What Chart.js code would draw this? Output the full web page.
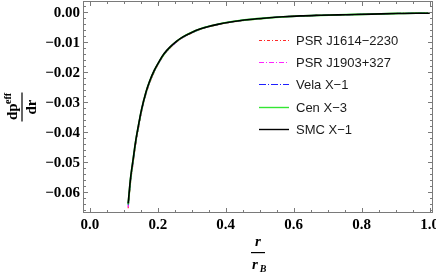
<!DOCTYPE html>
<html><head><meta charset="utf-8">
<script src="https://cdn.jsdelivr.net/npm/chart.js@4.4.1/dist/chart.umd.min.js"></script>
<style>html,body{margin:0;padding:0;background:#fff;}canvas{display:block;}</style>
</head><body>
<canvas id="c" width="436" height="273"></canvas>
<script>
// ---- data ----
const r = [0.113,0.120,0.127,0.135,0.142,0.152,0.165,0.176,0.190,0.206,0.220,0.235,0.255,0.274,0.300,0.324,0.350,0.373,0.410,0.440,0.470,0.520,0.569,0.620,0.680,0.755,0.830,0.900,0.960,1.000];
const psrJ1614 = [-0.0654,-0.0567,-0.0507,-0.0441,-0.0395,-0.0334,-0.0275,-0.0237,-0.0199,-0.0165,-0.0140,-0.0121,-0.0100,-0.0085,-0.0070,-0.0058,-0.0049,-0.0043,-0.0035,-0.0030,-0.0026,-0.0021,-0.0016,-0.0013,-0.0011,-0.0009,-0.0007,-0.0005,-0.0004,-0.0004];
const psrJ1903 = [-0.0651,-0.0564,-0.0505,-0.0439,-0.0393,-0.0333,-0.0273,-0.0236,-0.0198,-0.0164,-0.0140,-0.0120,-0.0100,-0.0085,-0.0069,-0.0058,-0.0049,-0.0043,-0.0035,-0.0030,-0.0026,-0.0020,-0.0016,-0.0013,-0.0011,-0.0009,-0.0007,-0.0005,-0.0004,-0.0004];
const velaX1 = [-0.0644,-0.0559,-0.0500,-0.0434,-0.0389,-0.0329,-0.0271,-0.0233,-0.0196,-0.0163,-0.0138,-0.0119,-0.0099,-0.0084,-0.0069,-0.0058,-0.0048,-0.0042,-0.0034,-0.0029,-0.0025,-0.0020,-0.0016,-0.0013,-0.0011,-0.0009,-0.0007,-0.0005,-0.0004,-0.0004];
const cenX3 = [-0.0641,-0.0556,-0.0497,-0.0432,-0.0387,-0.0328,-0.0269,-0.0232,-0.0195,-0.0162,-0.0138,-0.0119,-0.0098,-0.0083,-0.0068,-0.0057,-0.0048,-0.0042,-0.0034,-0.0029,-0.0025,-0.0020,-0.0016,-0.0013,-0.0011,-0.0009,-0.0007,-0.0005,-0.0004,-0.0004];
const smcX1 = [-0.0638,-0.0553,-0.0495,-0.0430,-0.0385,-0.0326,-0.0268,-0.0231,-0.0194,-0.0161,-0.0137,-0.0118,-0.0098,-0.0083,-0.0068,-0.0057,-0.0048,-0.0042,-0.0034,-0.0029,-0.0025,-0.0020,-0.0016,-0.0013,-0.0011,-0.0009,-0.0007,-0.0005,-0.0004,-0.0004];
const seriesLabels = ['PSR J1614\u22122230','PSR J1903+327','Vela X\u22121','Cen X\u22123','SMC X\u22121'];
const xTickValues = [0,0.2,0.4,0.6,0.8,1.0];
const xTickLabels = ['0.0','0.2','0.4','0.6','0.8','1.0'];
const yTickValues = [0,-0.01,-0.02,-0.03,-0.04,-0.05,-0.06];
const yTickLabels = ['0.00','\u22120.01','\u22120.02','\u22120.03','\u22120.04','\u22120.05','\u22120.06'];

const pts = ys => r.map((x,i)=>({x:x,y:ys[i]}));
const styles = [
  {c:'#ff2a2a', w:1.2, d:[3,2,1,2], o:5},
  {c:'#ff22ff', w:1.2, d:[5,2,1,2], o:4},
  {c:'#1f1fff', w:1.2, d:[7,2,1,2], o:3},
  {c:'#33e633', w:1.8, d:[], o:2},
  {c:'#000000', w:1.6, d:[], o:1}
];
const allSeries = [psrJ1614, psrJ1903, velaX1, cenX3, smcX1];
const datasets = allSeries.map((s,i)=>({
  label: seriesLabels[i], data: pts(s), borderColor: styles[i].c, borderWidth: styles[i].w,
  borderDash: styles[i].d, order: styles[i].o, pointRadius:0, fill:false, cubicInterpolationMode:'monotone'
}));

const decor = {
  id:'decor',
  afterDraw(chart){
    const ctx = chart.ctx, a = chart.chartArea, xs = chart.scales.x, ys = chart.scales.y;
    ctx.save();
    ctx.strokeStyle = '#7a7a7a'; ctx.lineWidth = 1;
    ctx.strokeRect(a.left+0.5, a.top+0.5, a.right-a.left-1, a.bottom-a.top-1);
    const tick = (x1,y1,x2,y2)=>{ctx.beginPath();ctx.moveTo(x1,y1);ctx.lineTo(x2,y2);ctx.stroke();};
    for(let k=0;k<=20;k++){
      const v=k*0.05, px=Math.round(xs.getPixelForValue(v))+0.5, L=(k%4===0)?5:3;
      tick(px,a.bottom,px,a.bottom-L); tick(px,a.top,px,a.top+L);
    }
    for(let k=-33;k<=1;k++){
      const v=k*0.002, py=Math.round(ys.getPixelForValue(v))+0.5, L=(k%5===0)?5:3;
      tick(a.left,py,a.left+L,py); tick(a.right,py,a.right-L,py);
    }
    ctx.fillStyle='#000';
    ctx.font='bold 15px "Liberation Serif", serif';
    ctx.textAlign='center'; ctx.textBaseline='middle';
    xTickValues.forEach((v,i)=>ctx.fillText(xTickLabels[i], xs.getPixelForValue(v), a.bottom+12));
    ctx.textAlign='right';
    yTickValues.forEach((v,i)=>ctx.fillText(yTickLabels[i], a.left-3, ys.getPixelForValue(v)+1));
    // x title
    ctx.textAlign='center'; ctx.textBaseline='alphabetic';
    ctx.font='italic bold 15px "Liberation Serif", serif';
    ctx.fillText('r', 258, 246);
    ctx.fillRect(251, 252, 14, 1.2);
    ctx.fillText('r', 255, 269);
    ctx.font='italic bold 10px "Liberation Serif", serif';
    ctx.fillText('B', 263, 272);
    // y title (rotated)
    ctx.save();
    ctx.translate(22,107); ctx.rotate(-Math.PI/2);
    ctx.font='bold 15px "Liberation Serif", serif';
    ctx.textAlign='left';
    ctx.fillText('dp', -13, -5);
    ctx.font='bold 10px "Liberation Serif", serif';
    ctx.fillText('eff', 3, -11);
    ctx.fillRect(-14.5, -0.6, 29, 1.2);
    ctx.font='bold 15px "Liberation Serif", serif';
    ctx.textAlign='center';
    ctx.fillText('dr', 0, 14);
    ctx.restore();
    // legend
    const ly=[40,62,84,107,129];
    chart.data.datasets.forEach((ds,i)=>{
      ctx.strokeStyle=ds.borderColor; ctx.lineWidth=Math.min(ds.borderWidth,1.4);
      ctx.setLineDash(ds.borderDash||[]);
      ctx.beginPath(); ctx.moveTo(259,ly[i]+0.5); ctx.lineTo(289,ly[i]+0.5); ctx.stroke();
      ctx.setLineDash([]);
      ctx.fillStyle='#1a1a1a'; ctx.font='13px "Liberation Sans", Arial, sans-serif';
      ctx.textAlign='left'; ctx.textBaseline='middle';
      ctx.fillText(ds.label, 296, ly[i]+1);
    });
    ctx.restore();
  }
};

new Chart(document.getElementById('c'), {
  type:'line',
  data:{datasets},
  options:{
    responsive:false, animation:false, devicePixelRatio:1,
    layout:{padding:{left:83,right:3,top:1,bottom:60}},
    plugins:{legend:{display:false}, tooltip:{enabled:false}},
    scales:{
      x:{type:'linear', min:-0.02, max:1.01, display:false},
      y:{type:'linear', min:-0.067, max:0.00367, display:false}
    }
  },
  plugins:[decor]
});
</script>
</body></html>
